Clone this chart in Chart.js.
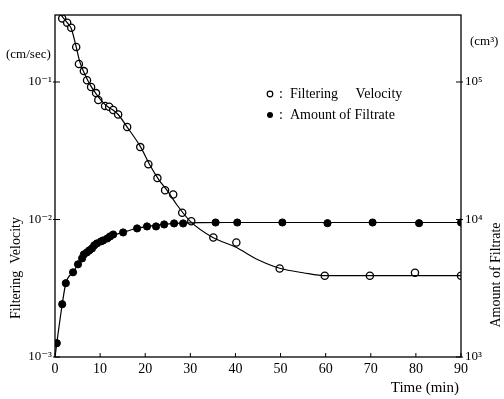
<!DOCTYPE html>
<html>
<head>
<meta charset="utf-8">
<script src="https://cdn.jsdelivr.net/npm/chart.js@4"></script>
<style>
  body { margin: 0; background: #fff; }
  #wrap { width: 504px; height: 399px; }
</style>
</head>
<body>
<div id="wrap"><canvas id="myChart" width="504" height="399"></canvas></div>
<script>
// time axis (min)
const timeTicks = [0, 10, 20, 30, 40, 50, 60, 70, 80, 90];
const velocityTicks = [0.001, 0.01, 0.1];
const velocityTickLabels = ['10⁻³', '10⁻²', '10⁻¹'];
const amountTicks = [1000, 10000, 100000];
const amountTickLabels = ['10³', '10⁴', '10⁵'];

// measured points, open circles: [time, cm/sec]
const velocityPoints = [
  [1.6, 0.29], [2.7, 0.27], [3.6, 0.248], [4.7, 0.18], [5.3, 0.135], [6.4, 0.12],
  [7.1, 0.103], [8.0, 0.092], [9.1, 0.083], [9.6, 0.074], [11.1, 0.067], [12.0, 0.066],
  [12.9, 0.0625], [14.0, 0.058], [16.0, 0.047], [18.9, 0.0336], [20.7, 0.0252],
  [22.7, 0.020], [24.4, 0.0163], [26.2, 0.0152], [28.2, 0.0112], [30.2, 0.0097],
  [35.1, 0.0074], [40.2, 0.0068], [49.8, 0.0044], [59.8, 0.0039], [69.8, 0.0039],
  [79.8, 0.0041], [90, 0.0039]
];
// fitted curve for velocity as drawn
const velocityCurve = [
  [1.2, 0.31], [2.7, 0.27], [3.6, 0.245], [4.7, 0.18], [5.5, 0.14], [7, 0.107],
  [8, 0.093], [9, 0.083], [10, 0.075], [11, 0.069], [12, 0.065], [13, 0.062],
  [14, 0.058], [16, 0.047], [19, 0.0336], [21, 0.025], [23, 0.0195], [25, 0.016],
  [27, 0.0128], [30, 0.0097], [35, 0.0074], [40, 0.0063], [45, 0.0051], [50, 0.0044],
  [55, 0.0041], [60, 0.0039], [90, 0.0039]
];

// measured points, filled dots: [time, cm3]
const amountPoints = [
  [0.4, 1260], [1.6, 2420], [2.4, 3440], [4.0, 4130], [5.1, 4720], [6.0, 5210],
  [6.4, 5570], [7.1, 5770], [7.6, 5960], [8.2, 6160], [8.7, 6480], [9.3, 6700],
  [10.2, 6930], [10.7, 7050], [11.6, 7280], [12.2, 7530], [12.9, 7780], [15.1, 8050],
  [18.2, 8610], [20.4, 8900], [22.4, 8900], [24.2, 9200], [26.4, 9360], [28.4, 9360],
  [35.6, 9510], [40.4, 9510], [50.4, 9510], [60.4, 9400], [70.4, 9510], [80.7, 9400],
  [90, 9510]
];
const amountCurve = [
  [0, 1000], [0.4, 1263], [1.6, 2420], [2.4, 3440], [4, 4130], [6, 5210], [8, 6100],
  [10, 6900], [12, 7500], [15, 8050], [18, 8600], [21, 8950], [24, 9200], [28, 9400],
  [32, 9500], [40, 9510], [90, 9510]
];

const FONT = "'Liberation Serif', 'DejaVu Serif', serif";
const toXY = arr => arr.map(p => ({ x: p[0], y: p[1] }));

// inward ticks, box frame and loose texts
const framePlugin = {
  id: 'frame',
  afterDraw(chart) {
    const { ctx, chartArea: a, scales } = chart;
    ctx.save();
    ctx.strokeStyle = '#000';
    ctx.lineWidth = 1.3;
    ctx.strokeRect(a.left, a.top, a.right - a.left, a.bottom - a.top);

    ctx.lineWidth = 1;
    ctx.beginPath();
    scales.x.ticks.forEach((t, i) => {
      const px = scales.x.getPixelForTick(i);
      ctx.moveTo(px, a.bottom); ctx.lineTo(px, a.bottom - 4);
    });
    scales.y.ticks.forEach((t, i) => {
      const py = scales.y.getPixelForTick(i);
      ctx.moveTo(a.left - 2, py); ctx.lineTo(a.left + 5, py);
    });
    scales.y2.ticks.forEach((t, i) => {
      const py = scales.y2.getPixelForTick(i);
      ctx.moveTo(a.right + 2, py); ctx.lineTo(a.right - 5, py);
    });
    ctx.stroke();

    ctx.fillStyle = '#000';
    ctx.textBaseline = 'middle';
    ctx.font = '13px ' + FONT;
    ctx.textAlign = 'left';
    ctx.fillText('(cm/sec)', 6, 55);
    ctx.fillText('(cm³)', 470, 42);
    ctx.font = '15px ' + FONT;
    ctx.textAlign = 'right';
    ctx.fillText('Time (min)', 459, 388);

    // rotated axis titles
    ctx.font = '14px ' + FONT;
    ctx.textAlign = 'center';
    ctx.save();
    ctx.translate(16, 268);
    ctx.rotate(-Math.PI / 2);
    ctx.fillText('Filtering  Velocity', 0, 0);
    ctx.restore();
    ctx.save();
    ctx.translate(496, 275);
    ctx.rotate(-Math.PI / 2);
    ctx.fillText('Amount of Filtrate', 0, 0);
    ctx.restore();

    // legend
    ctx.font = '14px ' + FONT;
    ctx.textAlign = 'left';
    ctx.lineWidth = 1.2;
    ctx.beginPath();
    ctx.arc(270, 94, 2.8, 0, Math.PI * 2);
    ctx.stroke();
    ctx.beginPath();
    ctx.arc(270, 115, 3, 0, Math.PI * 2);
    ctx.fill();
    ctx.fillText(':  Filtering     Velocity', 279, 94);
    ctx.fillText(':  Amount of Filtrate', 279, 115);
    ctx.restore();
  }
};

const ctx = document.getElementById('myChart').getContext('2d');
new Chart(ctx, {
  type: 'scatter',
  data: {
    datasets: [
      {
        label: 'velocity curve',
        data: toXY(velocityCurve),
        yAxisID: 'y',
        showLine: true,
        pointRadius: 0,
        borderColor: '#000',
        borderWidth: 1.2,
        cubicInterpolationMode: 'monotone'
      },
      {
        label: 'amount curve',
        data: toXY(amountCurve),
        yAxisID: 'y2',
        showLine: true,
        pointRadius: 0,
        borderColor: '#000',
        borderWidth: 1.2,
        cubicInterpolationMode: 'monotone'
      },
      {
        label: 'Filtering Velocity',
        data: toXY(velocityPoints),
        yAxisID: 'y',
        pointRadius: 3.6,
        pointBackgroundColor: '#fff',
        pointBorderColor: '#000',
        pointBorderWidth: 1.3
      },
      {
        label: 'Amount of Filtrate',
        data: toXY(amountPoints),
        yAxisID: 'y2',
        pointRadius: 3.6,
        pointBackgroundColor: '#000',
        pointBorderColor: '#000',
        pointBorderWidth: 1
      }
    ]
  },
  options: {
    responsive: false,
    animation: false,
    layout: { padding: { top: 15, left: 0, right: 0, bottom: 0 } },
    plugins: { legend: { display: false }, tooltip: { enabled: false } },
    scales: {
      x: {
        type: 'linear',
        min: 0,
        max: 90,
        afterBuildTicks: s => { s.ticks = timeTicks.map(v => ({ value: v })); },
        afterFit: s => { s.height = 42; },
        grid: { display: false, drawTicks: false },
        border: { display: false },
        ticks: { color: '#000', font: { family: FONT, size: 14 }, padding: 4, maxRotation: 0 }
      },
      y: {
        type: 'logarithmic',
        position: 'left',
        min: 0.001,
        max: 0.307,
        afterBuildTicks: s => { s.ticks = velocityTicks.map(v => ({ value: v })); },
        afterFit: s => { s.width = 55; },
        grid: { display: false, drawTicks: false },
        border: { display: false },
        ticks: {
          color: '#000',
          font: { family: FONT, size: 13 },
          padding: 3,
          callback: v => velocityTickLabels[velocityTicks.indexOf(v)]
        }
      },
      y2: {
        type: 'logarithmic',
        position: 'right',
        min: 1000,
        max: 307000,
        afterBuildTicks: s => { s.ticks = amountTicks.map(v => ({ value: v })); },
        afterFit: s => { s.width = 43; },
        grid: { display: false, drawTicks: false },
        border: { display: false },
        ticks: {
          color: '#000',
          font: { family: FONT, size: 13 },
          padding: 4,
          callback: v => amountTickLabels[amountTicks.indexOf(v)]
        }
      }
    }
  },
  plugins: [framePlugin]
});
</script>
</body>
</html>
